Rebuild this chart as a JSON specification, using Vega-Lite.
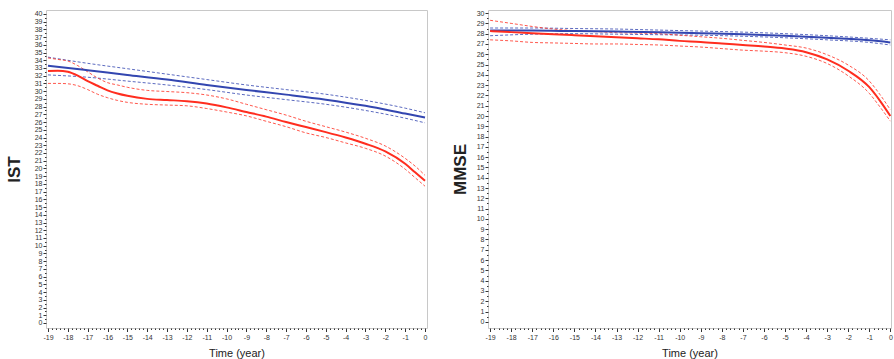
{
  "$schema": "https://vega.github.io/schema/vega-lite/v6.json",
  "padding": {"left": 4, "top": 8, "right": 0, "bottom": 0},
  "background": "white",
  "spacing": 20,
  "config": {
    "view": {"stroke": "#c8c8c8", "strokeWidth": 1},
    "axis": {"domain": false, "grid": false, "labelFont": "Liberation Sans", "titleFont": "Liberation Sans", "labelColor": "#333333", "tickColor": "#333333", "labelFontSize": 7, "titleColor": "#222222"}
  },
  "datasets": {
    "ist": [
      {"group": "blue", "x": -19, "est": 33.3, "hi": 34.4, "lo": 32.1},
      {"group": "blue", "x": -17, "est": 32.7, "hi": 33.6, "lo": 31.8},
      {"group": "blue", "x": -15, "est": 32.1, "hi": 32.9, "lo": 31.3},
      {"group": "blue", "x": -13, "est": 31.5, "hi": 32.2, "lo": 30.8},
      {"group": "blue", "x": -11, "est": 30.8, "hi": 31.5, "lo": 30.2},
      {"group": "blue", "x": -9, "est": 30.15, "hi": 30.8, "lo": 29.5},
      {"group": "blue", "x": -7, "est": 29.55, "hi": 30.2, "lo": 28.9},
      {"group": "blue", "x": -5, "est": 28.9, "hi": 29.6, "lo": 28.3},
      {"group": "blue", "x": -3, "est": 28.1, "hi": 28.8, "lo": 27.5},
      {"group": "blue", "x": -1, "est": 27.1, "hi": 27.8, "lo": 26.5},
      {"group": "blue", "x": 0, "est": 26.6, "hi": 27.2, "lo": 25.9},
      {"group": "red", "x": -19, "est": 32.6, "hi": 34.3, "lo": 31.0},
      {"group": "red", "x": -18.5, "est": 32.65, "hi": 34.1, "lo": 31.0},
      {"group": "red", "x": -18, "est": 32.5, "hi": 33.9, "lo": 30.95},
      {"group": "red", "x": -17.5, "est": 32.0, "hi": 33.3, "lo": 30.7},
      {"group": "red", "x": -17, "est": 31.3, "hi": 32.5, "lo": 30.2},
      {"group": "red", "x": -16.5, "est": 30.7, "hi": 31.7, "lo": 29.6},
      {"group": "red", "x": -16, "est": 30.1, "hi": 31.1, "lo": 29.15},
      {"group": "red", "x": -15.5, "est": 29.7, "hi": 30.8, "lo": 28.8},
      {"group": "red", "x": -15, "est": 29.4, "hi": 30.5, "lo": 28.55},
      {"group": "red", "x": -14, "est": 29.0, "hi": 30.1, "lo": 28.3},
      {"group": "red", "x": -13, "est": 28.85, "hi": 29.95, "lo": 28.2},
      {"group": "red", "x": -12, "est": 28.7, "hi": 29.8, "lo": 28.1},
      {"group": "red", "x": -11, "est": 28.4, "hi": 29.5, "lo": 27.75},
      {"group": "red", "x": -10, "est": 27.9, "hi": 29.0, "lo": 27.3},
      {"group": "red", "x": -9, "est": 27.3, "hi": 28.3, "lo": 26.8},
      {"group": "red", "x": -8, "est": 26.7, "hi": 27.6, "lo": 26.1},
      {"group": "red", "x": -7, "est": 26.0, "hi": 26.9, "lo": 25.4},
      {"group": "red", "x": -6, "est": 25.35, "hi": 26.1, "lo": 24.6},
      {"group": "red", "x": -5, "est": 24.7, "hi": 25.4, "lo": 24.0},
      {"group": "red", "x": -4, "est": 24.0, "hi": 24.7, "lo": 23.3},
      {"group": "red", "x": -3, "est": 23.2, "hi": 23.9, "lo": 22.6},
      {"group": "red", "x": -2, "est": 22.2, "hi": 22.9, "lo": 21.6},
      {"group": "red", "x": -1, "est": 20.6, "hi": 21.3, "lo": 19.9},
      {"group": "red", "x": -0.5, "est": 19.5, "hi": 20.3, "lo": 18.8},
      {"group": "red", "x": 0, "est": 18.4, "hi": 19.1, "lo": 17.7}
    ],
    "mmse": [
      {"group": "blue", "x": -19, "est": 28.3, "hi": 28.55, "lo": 27.8},
      {"group": "blue", "x": -17, "est": 28.3, "hi": 28.55, "lo": 27.95},
      {"group": "blue", "x": -15, "est": 28.25, "hi": 28.5, "lo": 28.0},
      {"group": "blue", "x": -13, "est": 28.2, "hi": 28.45, "lo": 27.95},
      {"group": "blue", "x": -11, "est": 28.15, "hi": 28.35, "lo": 27.9},
      {"group": "blue", "x": -9, "est": 28.05, "hi": 28.25, "lo": 27.85},
      {"group": "blue", "x": -7, "est": 27.95, "hi": 28.15, "lo": 27.75},
      {"group": "blue", "x": -5, "est": 27.8, "hi": 28.0, "lo": 27.6},
      {"group": "blue", "x": -3, "est": 27.6, "hi": 27.8, "lo": 27.4},
      {"group": "blue", "x": -1, "est": 27.35, "hi": 27.55, "lo": 27.15},
      {"group": "blue", "x": 0, "est": 27.15, "hi": 27.4, "lo": 26.9},
      {"group": "red", "x": -19, "est": 28.25, "hi": 29.3, "lo": 27.4},
      {"group": "red", "x": -18, "est": 28.15, "hi": 29.0, "lo": 27.3},
      {"group": "red", "x": -17, "est": 28.05, "hi": 28.7, "lo": 27.15},
      {"group": "red", "x": -16, "est": 27.95, "hi": 28.45, "lo": 27.1},
      {"group": "red", "x": -15, "est": 27.85, "hi": 28.3, "lo": 27.05},
      {"group": "red", "x": -14, "est": 27.75, "hi": 28.2, "lo": 27.0},
      {"group": "red", "x": -13, "est": 27.65, "hi": 28.1, "lo": 27.0},
      {"group": "red", "x": -12, "est": 27.55, "hi": 28.05, "lo": 26.95},
      {"group": "red", "x": -11, "est": 27.45, "hi": 28.0, "lo": 26.9},
      {"group": "red", "x": -10, "est": 27.3, "hi": 27.85, "lo": 26.8},
      {"group": "red", "x": -9, "est": 27.2, "hi": 27.7, "lo": 26.7},
      {"group": "red", "x": -8, "est": 27.05, "hi": 27.55, "lo": 26.55},
      {"group": "red", "x": -7, "est": 26.9, "hi": 27.35, "lo": 26.4},
      {"group": "red", "x": -6, "est": 26.75, "hi": 27.15, "lo": 26.3},
      {"group": "red", "x": -5, "est": 26.55, "hi": 26.9, "lo": 26.15},
      {"group": "red", "x": -4, "est": 26.2, "hi": 26.6, "lo": 25.8},
      {"group": "red", "x": -3, "est": 25.5, "hi": 25.95, "lo": 25.1},
      {"group": "red", "x": -2, "est": 24.4, "hi": 24.95, "lo": 23.9},
      {"group": "red", "x": -1, "est": 22.8, "hi": 23.4, "lo": 22.2},
      {"group": "red", "x": -0.5, "est": 21.5, "hi": 22.1, "lo": 20.9},
      {"group": "red", "x": 0, "est": 20.0, "hi": 20.6, "lo": 19.5}
    ]
  },
  "hconcat": [
    {
      "width": 381,
      "height": 318,
      "data": {"name": "ist"},
      "transform": [{"fold": ["est", "lo", "hi"], "as": ["band", "val"]}],
      "encoding": {
        "x": {
          "field": "x", "type": "quantitative",
          "scale": {"domain": [-19.1, 0.1], "nice": false, "zero": false},
          "axis": {
            "title": "Time (year)", "titleFontSize": 11, "titleFontWeight": "normal", "titlePadding": 7,
            "labelPadding": 2, "labelFlush": false, "labelOverlap": false,
            "values": [-19,-18.8,-18.6,-18.4,-18.2,-18,-17.8,-17.6,-17.4,-17.2,-17,-16.8,-16.6,-16.4,-16.2,-16,-15.8,-15.6,-15.4,-15.2,-15,-14.8,-14.6,-14.4,-14.2,-14,-13.8,-13.6,-13.4,-13.2,-13,-12.8,-12.6,-12.4,-12.2,-12,-11.8,-11.6,-11.4,-11.2,-11,-10.8,-10.6,-10.4,-10.2,-10,-9.8,-9.6,-9.4,-9.2,-9,-8.8,-8.6,-8.4,-8.2,-8,-7.8,-7.6,-7.4,-7.2,-7,-6.8,-6.6,-6.4,-6.2,-6,-5.8,-5.6,-5.4,-5.2,-5,-4.8,-4.6,-4.4,-4.2,-4,-3.8,-3.6,-3.4,-3.2,-3,-2.8,-2.6,-2.4,-2.2,-2,-1.8,-1.6,-1.4,-1.2,-1,-0.8,-0.6,-0.4,-0.2,0],
            "labelExpr": "datum.value % 1 === 0 ? toString(datum.value) : ''",
            "tickSize": {"condition": {"test": "datum.value % 1 === 0", "value": 3.5}, "value": 1.5}
          }
        },
        "y": {
          "field": "val", "type": "quantitative",
          "scale": {"domain": [-0.65, 40.5], "nice": false, "zero": false},
          "axis": {
            "title": "IST", "titleFontSize": 17, "titleFontWeight": "bold", "titlePadding": 7,
            "minExtent": 16, "maxExtent": 16, "labelPadding": 1, "labelOverlap": false,
            "values": [0,0.5,1,1.5,2,2.5,3,3.5,4,4.5,5,5.5,6,6.5,7,7.5,8,8.5,9,9.5,10,10.5,11,11.5,12,12.5,13,13.5,14,14.5,15,15.5,16,16.5,17,17.5,18,18.5,19,19.5,20,20.5,21,21.5,22,22.5,23,23.5,24,24.5,25,25.5,26,26.5,27,27.5,28,28.5,29,29.5,30,30.5,31,31.5,32,32.5,33,33.5,34,34.5,35,35.5,36,36.5,37,37.5,38,38.5,39,39.5,40],
            "labelExpr": "datum.value % 1 === 0 ? toString(datum.value) : ''",
            "tickSize": {"condition": {"test": "datum.value % 1 === 0", "value": 3}, "value": 1.5}
          }
        },
        "color": {"field": "group", "type": "nominal", "scale": {"domain": ["blue", "red"], "range": ["#3346b0", "#ff2d1f"]}, "legend": null},
        "detail": {"field": "band"}
      },
      "layer": [
        {
          "transform": [{"filter": "datum.band !== 'est'"}],
          "mark": {"type": "line", "interpolate": "monotone", "strokeWidth": 1, "strokeDash": [3, 2], "opacity": 0.8}
        },
        {
          "transform": [{"filter": "datum.band === 'est'"}],
          "mark": {"type": "line", "interpolate": "monotone", "strokeWidth": 2}
        }
      ]
    },
    {
      "width": 403,
      "height": 318,
      "data": {"name": "mmse"},
      "transform": [{"fold": ["est", "lo", "hi"], "as": ["band", "val"]}],
      "encoding": {
        "x": {
          "field": "x", "type": "quantitative",
          "scale": {"domain": [-19.1, 0.03], "nice": false, "zero": false},
          "axis": {
            "title": "Time (year)", "titleFontSize": 11, "titleFontWeight": "normal", "titlePadding": 7,
            "labelPadding": 2, "labelFlush": false, "labelOverlap": false,
            "values": [-19,-18.8,-18.6,-18.4,-18.2,-18,-17.8,-17.6,-17.4,-17.2,-17,-16.8,-16.6,-16.4,-16.2,-16,-15.8,-15.6,-15.4,-15.2,-15,-14.8,-14.6,-14.4,-14.2,-14,-13.8,-13.6,-13.4,-13.2,-13,-12.8,-12.6,-12.4,-12.2,-12,-11.8,-11.6,-11.4,-11.2,-11,-10.8,-10.6,-10.4,-10.2,-10,-9.8,-9.6,-9.4,-9.2,-9,-8.8,-8.6,-8.4,-8.2,-8,-7.8,-7.6,-7.4,-7.2,-7,-6.8,-6.6,-6.4,-6.2,-6,-5.8,-5.6,-5.4,-5.2,-5,-4.8,-4.6,-4.4,-4.2,-4,-3.8,-3.6,-3.4,-3.2,-3,-2.8,-2.6,-2.4,-2.2,-2,-1.8,-1.6,-1.4,-1.2,-1,-0.8,-0.6,-0.4,-0.2,0],
            "labelExpr": "datum.value % 1 === 0 ? toString(datum.value) : ''",
            "tickSize": {"condition": {"test": "datum.value % 1 === 0", "value": 3.5}, "value": 1.5}
          }
        },
        "y": {
          "field": "val", "type": "quantitative",
          "scale": {"domain": [-0.6, 30.3], "nice": false, "zero": false},
          "axis": {
            "title": "MMSE", "titleFontSize": 17, "titleFontWeight": "bold", "titlePadding": 5,
            "minExtent": 14, "maxExtent": 14, "labelPadding": 1, "labelOverlap": false,
            "values": [0,0.5,1,1.5,2,2.5,3,3.5,4,4.5,5,5.5,6,6.5,7,7.5,8,8.5,9,9.5,10,10.5,11,11.5,12,12.5,13,13.5,14,14.5,15,15.5,16,16.5,17,17.5,18,18.5,19,19.5,20,20.5,21,21.5,22,22.5,23,23.5,24,24.5,25,25.5,26,26.5,27,27.5,28,28.5,29,29.5,30],
            "labelExpr": "datum.value % 1 === 0 ? toString(datum.value) : ''",
            "tickSize": {"condition": {"test": "datum.value % 1 === 0", "value": 3}, "value": 1.5}
          }
        },
        "color": {"field": "group", "type": "nominal", "scale": {"domain": ["blue", "red"], "range": ["#3346b0", "#ff2d1f"]}, "legend": null},
        "detail": {"field": "band"}
      },
      "layer": [
        {
          "transform": [{"filter": "datum.band !== 'est'"}],
          "mark": {"type": "line", "interpolate": "monotone", "strokeWidth": 1, "strokeDash": [3, 2], "opacity": 0.8}
        },
        {
          "transform": [{"filter": "datum.band === 'est'"}],
          "mark": {"type": "line", "interpolate": "monotone", "strokeWidth": 2}
        }
      ]
    }
  ],
  "resolve": {"scale": {"color": "shared"}}
}
